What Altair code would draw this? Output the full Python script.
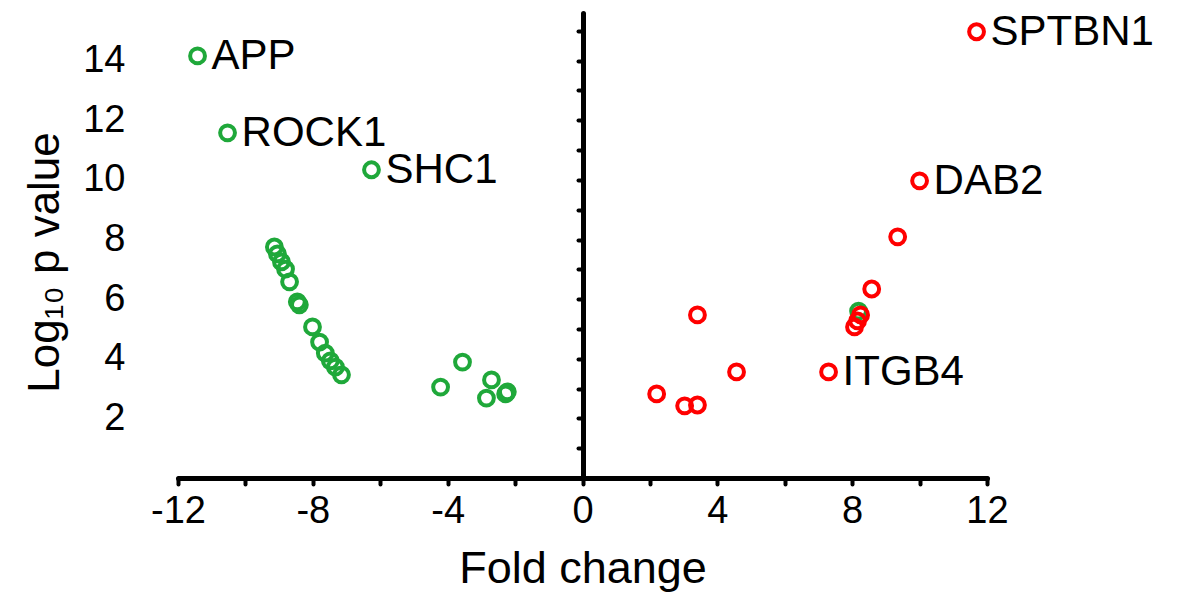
import altair as alt
import pandas as pd

# Down-regulated (green) genes
green_x = [-11.42, -10.53, -6.26,
           -9.14, -9.05, -8.93, -8.81, -8.69, -8.46, -8.40, -8.01, -7.80, -7.63, -7.48, -7.33, -7.15,
           -4.21, -3.56, -2.70, -2.85, -2.28, -2.23, 8.19]
green_y = [14.16, 11.58, 10.34,
           7.75, 7.52, 7.25, 7.01, 6.58, 5.91, 5.81, 5.07, 4.56, 4.19, 3.93, 3.72, 3.46,
           3.05, 3.89, 3.29, 2.68, 2.82, 2.89, 5.60]
green_lab = ["APP", "ROCK1", "SHC1"] + [""] * 20

# Up-regulated (red) genes
red_x = [11.69, 10.00, 9.35, 8.58, 8.25, 8.16, 8.07, 7.30, 4.57, 3.41, 2.20, 3.03, 3.41]
red_y = [14.97, 9.97, 8.09, 6.34, 5.47, 5.27, 5.07, 3.56, 3.56, 5.47, 2.82, 2.42, 2.45]
red_lab = ["SPTBN1", "DAB2", "", "", "", "", "", "ITGB4", "", "", "", "", ""]

x_ticks = list(range(-12, 13, 2))
y_labels = [2, 4, 6, 8, 10, 12, 14]
y_ticks = list(range(1, 16))

green = pd.DataFrame({"fc": green_x, "p": green_y, "gene": green_lab})
red = pd.DataFrame({"fc": red_x, "p": red_y, "gene": red_lab})
labels = pd.concat([green, red])
labels = labels[labels["gene"] != ""]

FONT = "Liberation Sans"
W, H = 809, 465

xs = alt.Scale(domain=[-12, 12], nice=False, zero=False)
ys = alt.Scale(domain=[0, 15.6], nice=False, zero=False)

x_axis = alt.Axis(
    values=x_ticks,
    labelExpr="datum.value % 4 == 0 ? '' + datum.value : ''",
    labelFlush=False, labelOverlap=False,
    grid=False, domainWidth=5, domainColor="black", domainCap="round",
    tickSize=6, tickWidth=4, tickColor="black", tickCap="round",
    labelFontSize=38, labelFont=FONT, labelColor="black", labelPadding=8,
    title="Fold change", titleFontSize=45, titleFont=FONT, titleFontWeight="normal",
    titleColor="black", titleY=104, titleBaseline="alphabetic",
)

y_axis_labels = alt.Axis(
    values=y_labels, orient="left", grid=False, domain=False, ticks=False, tickSize=0,
    labelFontSize=38, labelFont=FONT, labelColor="black", labelPadding=53,
    labelOverlap=False,
    title="Log₁₀ p value", titleFontSize=44, titleFont=FONT, titleFontWeight="normal",
    titleColor="black", titleX=-133, titleY=249, titleBaseline="middle", titleAlign="center",
)

y_axis_center = alt.Axis(
    values=y_ticks, orient="left", offset=-405, grid=False, labels=False, title=None,
    domainWidth=5, domainColor="black", domainCap="round",
    tickSize=5, tickWidth=4, tickColor="black", tickCap="round",
)

g = alt.Chart(green).mark_point(
    shape="circle", filled=False, size=220, strokeWidth=4, color="#1fa83a", opacity=1
).encode(
    x=alt.X("fc:Q", scale=xs, axis=x_axis),
    y=alt.Y("p:Q", scale=ys, axis=y_axis_labels),
)

r = alt.Chart(red).mark_point(
    shape="circle", filled=False, size=220, strokeWidth=4, color="#ff0000", opacity=1
).encode(
    x=alt.X("fc:Q", scale=xs, axis=x_axis),
    y=alt.Y("p:Q", scale=ys, axis=y_axis_center),
)

t = alt.Chart(labels).mark_text(
    align="left", baseline="middle", dx=14, fontSize=42, font=FONT, color="black"
).encode(
    x=alt.X("fc:Q", scale=xs, axis=x_axis),
    y=alt.Y("p:Q", scale=ys, axis=None),
    text="gene:N",
)

chart = alt.layer(g, r, t).resolve_axis(y="independent").properties(
    width=W, height=H,
    background="white",
    autosize=alt.AutoSizeParams(type="none"),
    padding={"left": 170, "top": 5, "right": 183, "bottom": 118},
).configure_view(stroke=None)

chart.save("out.html", embed_options={"renderer": "svg", "actions": False})
